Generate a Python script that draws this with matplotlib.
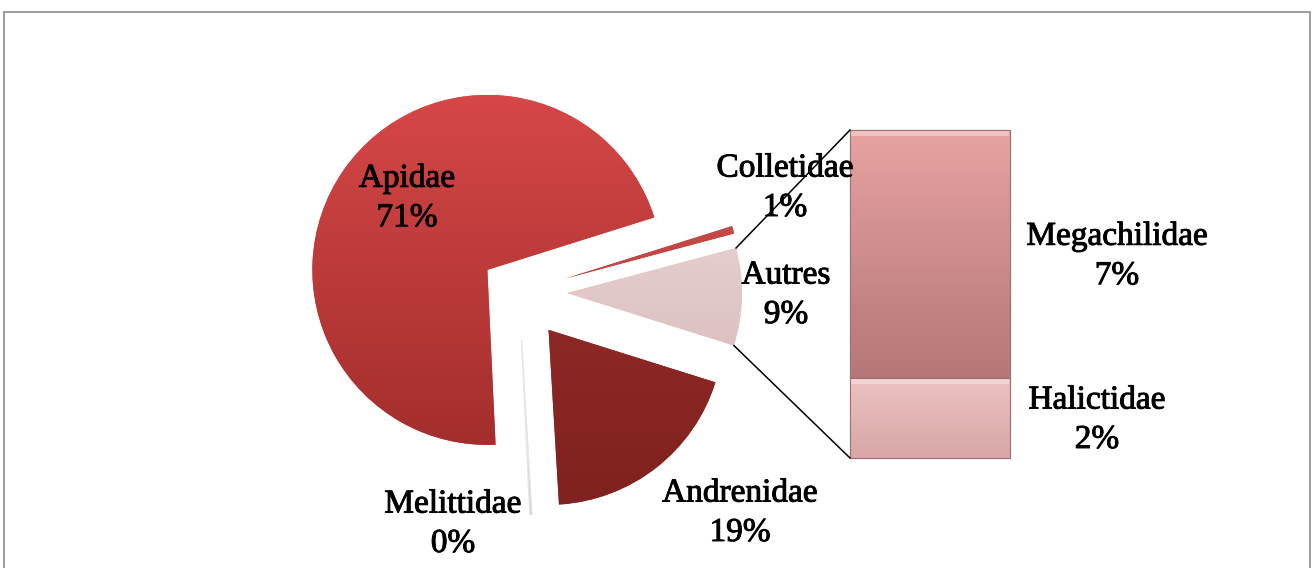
import numpy as np
import matplotlib
matplotlib.use("Agg")
import matplotlib.pyplot as plt
import matplotlib.patheffects as pe
from matplotlib.colors import LinearSegmentedColormap
from matplotlib.patches import Rectangle

# ---------------- data ----------------
pie_labels = ["Melittidae", "Andrenidae", "Autres", "Colletidae", "Apidae"]
pie_values = [0.2, 19.2, 9.0, 0.7, 70.9]           # % (Autres = bar total)
bar_labels = ["Halictidae", "Megachilidae"]
bar_values = [2.2, 6.8]                            # % (bottom to top)

# ---------------- styles ----------------
pie_top = ["#d9d9d9", "#9a2e2c", "#efdcdc", "#d0504c", "#d64747"]
pie_bot = ["#c8c8c8", "#80221f", "#d4b3b4", "#b03a37", "#a32e2d"]
pie_explode = [48, 48, 48, 48, 38.6]
bar_top = ["#edc2c2", "#e8a2a2"]
bar_bot = ["#d8a6a7", "#b57777"]

W, H = 1313, 568
fig = plt.figure(figsize=(W / 100, H / 100), dpi=100)
ax = fig.add_axes([0, 0, 1, 1])

plt.rcParams["font.family"] = ["Liberation Serif", "DejaVu Serif"]
FS = 24

pie_center = (519, H - 292)
R = 175
wedges, _ = ax.pie(pie_values, center=pie_center, radius=R, explode=pie_explode,
                   startangle=-87.3, counterclock=True, colors=pie_top,
                   wedgeprops=dict(linewidth=0))

ax.set_xlim(0, W)
ax.set_ylim(0, H)
ax.set_aspect("equal")
ax.axis("off")

grad = np.linspace(0, 1, 256).reshape(-1, 1)

def gradient_fill(patch, c_top, c_bot, extent, z=2):
    cmap = LinearSegmentedColormap.from_list("g", [c_bot, c_top])
    im = ax.imshow(grad, cmap=cmap, extent=extent, origin="lower",
                   aspect="auto", zorder=z, interpolation="bicubic")
    im.set_clip_path(patch)

for w, ct, cb in zip(wedges, pie_top, pie_bot):
    cx, cy = w.center
    ext = (cx - R, cx + R, cy - R, cy + R)
    w.set_zorder(1)
    gradient_fill(w, ct, cb, ext)

# Melittidae (near-zero slice): faint line
wedges[0].set_edgecolor("#e6e6e6")
wedges[0].set_linewidth(1.0)
wedges[0].set_zorder(3)
wedges[0].set_facecolor("none")

# ---------------- bar ----------------
bar_x = 930
bar_w = 160
bar_bottom_px = H - 458
scale = 328 / sum(bar_values)
bottoms = np.concatenate([[0], np.cumsum(bar_values)[:-1]])
bars = ax.bar([bar_x] * len(bar_values), np.array(bar_values) * scale,
              bottom=bar_bottom_px + bottoms * scale, width=bar_w,
              color=bar_top, edgecolor="#b08080", linewidth=0.8, zorder=1)
for b, ct, cb in zip(bars, bar_top, bar_bot):
    x0, y0 = b.get_x(), b.get_y()
    gradient_fill(b, ct, cb, (x0, x0 + b.get_width(), y0, y0 + b.get_height()))
    ax.add_patch(Rectangle((x0, y0), b.get_width(), b.get_height(), fill=False,
                           edgecolor="#a07070", linewidth=0.8, zorder=4))
    ax.add_patch(Rectangle((x0 + 1, y0 + b.get_height() - 6), b.get_width() - 2, 5,
                           facecolor="white", alpha=0.35, linewidth=0, zorder=4))

# ---------------- connector lines ----------------
aw = wedges[2]
acx, acy = aw.center
p_top = (acx + R * np.cos(np.radians(aw.theta2)), acy + R * np.sin(np.radians(aw.theta2)))
p_bot = (acx + R * np.cos(np.radians(aw.theta1)), acy + R * np.sin(np.radians(aw.theta1)))
top_bar = bars[-1]
bot_bar = bars[0]
ax.plot([p_top[0], top_bar.get_x()], [p_top[1], top_bar.get_y() + top_bar.get_height()],
        color="black", lw=1.1, zorder=5)
ax.plot([p_bot[0], bot_bar.get_x()], [p_bot[1], bot_bar.get_y()],
        color="black", lw=1.1, zorder=5)

# ---------------- labels ----------------
def pct(v):
    return f"{int(round(v))}%"

label_pos = {
    "Apidae": (407, H - 198),
    "Colletidae": (785, H - 188),
    "Autres": (786, H - 295),
    "Andrenidae": (740, H - 513),
    "Melittidae": (453, H - 524),
    "Megachilidae": (1117, H - 256),
    "Halictidae": (1097, H - 420),
}
stroke = [pe.withStroke(linewidth=0.7, foreground="black")]
for name, v in list(zip(pie_labels, pie_values)) + list(zip(bar_labels, bar_values)):
    x, y = label_pos[name]
    ax.text(x, y, f"{name}\n{pct(v)}", ha="center", va="center", fontsize=FS,
            linespacing=1.38, zorder=6, path_effects=stroke)

# ---------------- frame ----------------
ax.add_patch(Rectangle((3.5, -10), W - 7, H - 11.5 + 10, fill=False,
                       edgecolor="#8c8c8c", linewidth=1.2, zorder=7, clip_on=False))

fig.savefig("out.png", dpi=100)
